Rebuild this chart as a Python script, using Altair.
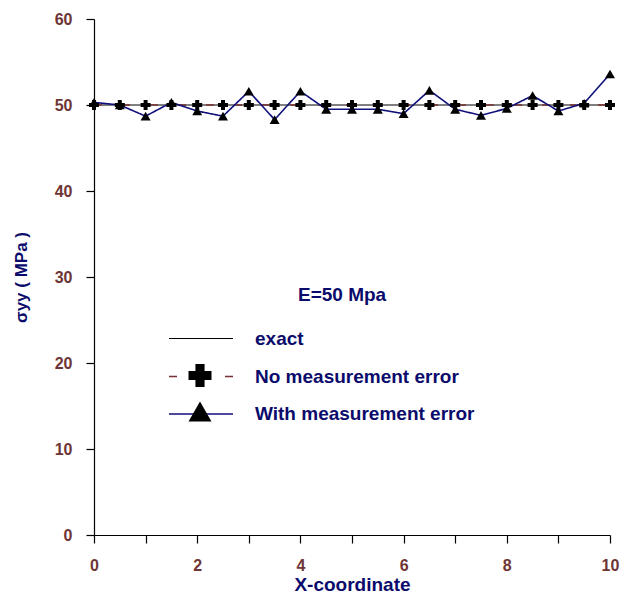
import altair as alt
import pandas as pd

# ---- data ----
xs = [0.0, 0.5, 1.0, 1.5, 2.0, 2.5, 3.0, 3.5, 4.0, 4.5, 5.0,
      5.5, 6.0, 6.5, 7.0, 7.5, 8.0, 8.5, 9.0, 9.5, 10.0]
with_error = [50.3, 50.0, 48.7, 50.3, 49.3, 48.7, 51.6, 48.3, 51.6, 49.5, 49.5,
              49.5, 49.0, 51.7, 49.5, 48.8, 49.6, 51.1, 49.3, 50.2, 53.6]
no_error = [50.0, 50.0, 50.0, 50.0, 50.0, 50.0, 50.0, 50.0, 50.0, 50.0, 50.0,
            50.0, 50.0, 50.0, 50.0, 50.0, 50.0, 50.0, 50.0, 50.0, 50.0]
exact_x = [0.0, 10.0]
exact_y = [50.0, 50.0]

series_names = ["exact", "No measurement error", "With measurement error"]
x_ticks = [0, 1, 2, 3, 4, 5, 6, 7, 8, 9, 10]
y_ticks = [0, 10, 20, 30, 40, 50, 60]

FONT = "Liberation Sans"
NAVY = "#0b0b6b"
BROWN = "#6e3535"

lines_df = pd.concat([
    pd.DataFrame({"x": exact_x, "y": exact_y, "series": series_names[0]}),
    pd.DataFrame({"x": xs, "y": no_error, "series": series_names[1]}),
    pd.DataFrame({"x": xs, "y": with_error, "series": series_names[2]}),
], ignore_index=True)

points_df = pd.concat([
    pd.DataFrame({"x": xs, "y": no_error, "marker": series_names[1]}),
    pd.DataFrame({"x": xs, "y": with_error, "marker": series_names[2]}),
], ignore_index=True)

x_enc = alt.X("x:Q", scale=alt.Scale(domain=[0, 10], nice=False),
              axis=alt.Axis(values=x_ticks, title="X-coordinate", labelFlush=False,
                            labelExpr="datum.value % 2 == 0 ? datum.label : ''"))
y_enc = alt.Y("y:Q", scale=alt.Scale(domain=[0, 60], nice=False),
              axis=alt.Axis(values=y_ticks, title="σyy ( MPa )", labelFlush=False))

lines = alt.Chart(lines_df).mark_line().encode(
    x=x_enc,
    y=y_enc,
    color=alt.Color("series:N",
                    scale=alt.Scale(domain=series_names, range=["#000000", "#7a3030", "#10107a"]),
                    legend=alt.Legend(
                        title=None, orient="none", legendX=96, legendY=309,
                        symbolType="M-3.2,0H3.2", symbolSize=400, symbolStrokeWidth=1.5,
                        labelFont=FONT, labelFontSize=19, labelFontWeight="bold",
                        labelColor=NAVY, labelOffset=43, rowPadding=16.5, padding=0,
                        labelLimit=400)),
    strokeDash=alt.StrokeDash("series:N",
                              scale=alt.Scale(domain=series_names,
                                              range=[[1, 0], [8, 20], [1, 0]])),
    strokeWidth=alt.StrokeWidth("series:N",
                                scale=alt.Scale(domain=series_names, range=[1, 1.6, 2]),
                                legend=None),
    order=alt.Order("x:Q"),
)

points = alt.Chart(points_df).mark_point(filled=True, opacity=1, size=100, color="black").encode(
    x="x:Q",
    y="y:Q",
    shape=alt.Shape("marker:N",
                    scale=alt.Scale(domain=series_names[1:], range=["cross", "triangle-up"]),
                    legend=alt.Legend(
                        title=None, orient="none", legendX=94.5, legendY=345,
                        symbolSize=529, symbolFillColor="black", symbolStrokeWidth=0,
                        symbolOpacity=1, labelExpr="''", rowPadding=13, padding=0)),
)

chart = alt.layer(lines, points).properties(
    width=516, height=516,
    autosize=alt.AutoSizeParams(type="none"),
    padding={"left": 94, "top": 19, "right": 18, "bottom": 59},
    title=alt.Title("E=50 Mpa", anchor="start", frame="group", orient="top",
                    dx=204, dy=294, baseline="top", font=FONT, fontSize=19,
                    fontWeight="bold", color=NAVY, offset=0),
).configure_view(stroke=None).configure_axis(
    grid=False, domainColor="black", tickColor="black", tickSize=8,
    domainWidth=1.2, tickWidth=1.2,
    labelFont=FONT, labelFontSize=16, labelFontWeight="bold", labelColor=BROWN,
    titleFont=FONT, titleFontSize=19, titleFontWeight="bold", titleColor=NAVY,
).configure_axisX(labelPadding=14, titlePadding=2, labelAngle=0).configure_axisY(
    labelPadding=14, titlePadding=24, titleFontSize=17)

chart.save("out.html", embed_options={"renderer": "svg", "actions": False})
